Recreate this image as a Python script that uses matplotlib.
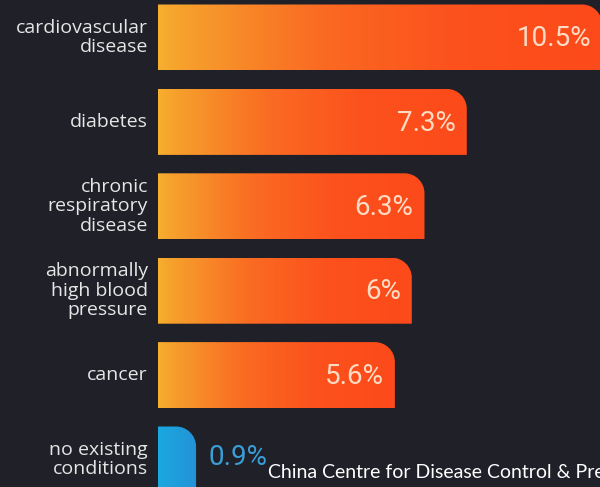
import numpy as np
import matplotlib
matplotlib.use("Agg")
import matplotlib.pyplot as plt
from matplotlib.path import Path
from matplotlib.patches import PathPatch
from matplotlib.colors import LinearSegmentedColormap

labels = ["cardiovascular\ndisease", "diabetes", "chronic\nrespiratory\ndisease",
          "abnormally\nhigh blood\npressure", "cancer", "no existing\nconditions"]
values = [10.5, 7.3, 6.3, 6.0, 5.6, 0.9]
value_text = ["10.5%", "7.3%", "6.3%", "6%", "5.6%", "0.9%"]
source = "China Centre for Disease Control & Prevention"

BG = "#1f2028"
orange = LinearSegmentedColormap.from_list(
    "orange", ["#f6b12f", "#f7922a", "#fa6a22", "#fc521d", "#fd4a1a"])
blue = LinearSegmentedColormap.from_list("blue", ["#1ba8e0", "#2392d6"])

# pixel layout: bars start at x=158, 42.3 px per percent, 84.4 px per row
PX, X0, ROW, Y0 = 42.3, 158, 84.4, 37.5
W, H = 600, 487

fig = plt.figure(figsize=(6, 4.87), dpi=100, facecolor=BG)
ax = fig.add_axes([0, 0, 1, 1])
ax.set_facecolor(BG)

bar_h = 66 / ROW
rx, ry = 20 / PX, 20 / ROW
k = 0.5523


def bar_path(v, y):
    top, bot = y - bar_h / 2, y + bar_h / 2
    r = min(rx, v)
    verts = [(0, bot), (v, bot), (v, top + ry),
             (v, top + ry * (1 - k)), (v - r * (1 - k), top), (v - r, top),
             (0, top), (0, bot)]
    codes = [Path.MOVETO, Path.LINETO, Path.LINETO,
             Path.CURVE4, Path.CURVE4, Path.CURVE4,
             Path.LINETO, Path.CLOSEPOLY]
    return Path(verts, codes)


grad = np.linspace(0, 1, 256).reshape(1, -1)
for i, (v, txt) in enumerate(zip(values, value_text)):
    cmap = blue if i == len(values) - 1 else orange
    patch = PathPatch(bar_path(v, i), facecolor="none", edgecolor="none")
    ax.add_patch(patch)
    g = grad if cmap is blue else grad ** 0.7
    im = ax.imshow(g, extent=[0, v, i + bar_h / 2, i - bar_h / 2],
                   aspect="auto", cmap=cmap, interpolation="bicubic")
    im.set_clip_path(patch)

    if cmap is blue:
        ax.text(v + 12 / PX, i - 0.02, txt, ha="left", va="center",
                fontsize=20, color="#3a9ed8", family="Roboto")
    else:
        ax.text(v - 11 / PX, i + 0.015, txt, ha="right", va="center",
                fontsize=20, color="#fcdcc4", family="Roboto")

    ax.text(-10 / PX, i, labels[i], ha="right", va="center", fontsize=14,
            color="#e6e6e6", family="Open Sans", linespacing=1.12)

ax.text(268 / PX - X0 / PX, 5.0 + 18 / ROW, source, ha="left", va="baseline",
        fontsize=14, color="white", family="Lato")

ax.set_xlim(-X0 / PX, (W - X0) / PX)
ax.set_ylim((H - Y0) / ROW, -Y0 / ROW)
ax.axis("off")

fig.savefig("out.png", dpi=100, facecolor=BG)
